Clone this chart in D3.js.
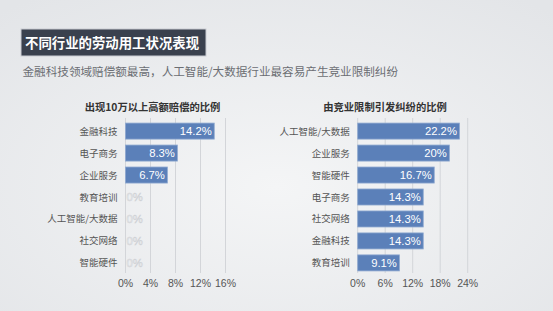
<!DOCTYPE html>
<html>
<head>
<meta charset="utf-8">
<script src="https://cdn.jsdelivr.net/npm/d3@7"></script>
<style>
  body { margin: 0; overflow: hidden; }
  svg { display: block; }
</style>
</head>
<body>
<svg id="chart"></svg>
<script>
// data
const leftCategories = ["金融科技", "电子商务", "企业服务", "教育培训", "人工智能/大数据", "社交网络", "智能硬件"];
const leftValues = [14.2, 8.3, 6.7, 0, 0, 0, 0];
const leftTicks = [0, 4, 8, 12, 16];

const rightCategories = ["人工智能/大数据", "企业服务", "智能硬件", "电子商务", "社交网络", "金融科技", "教育培训"];
const rightValues = [22.2, 20, 16.7, 14.3, 14.3, 14.3, 9.1];
const rightTicks = [0, 6, 12, 18, 24];

const W = 553, H = 311;
const font = "'Noto Sans CJK SC', 'Noto Sans', sans-serif";
const numFont = "'Liberation Sans', Arial, sans-serif";

const svg = d3.select("#chart").attr("width", W).attr("height", H);

// background
const defs = svg.append("defs");
const grad = defs.append("radialGradient").attr("id", "bg")
  .attr("cx", "50%").attr("cy", "60%").attr("r", "75%");
grad.append("stop").attr("offset", "0%").attr("stop-color", "#f4f5f6");
grad.append("stop").attr("offset", "100%").attr("stop-color", "#e3e5e8");
svg.append("rect").attr("width", W).attr("height", H).attr("fill", "url(#bg)");

// header
svg.append("rect")
  .attr("x", 21).attr("y", 29).attr("width", 185).attr("height", 27)
  .attr("fill", "#3a414e").attr("stroke", "#c9ccd2").attr("stroke-width", 1);
svg.append("text")
  .attr("x", 25).attr("y", 47.5)
  .style("font-family", font).style("font-size", "13.4px").style("font-weight", "bold")
  .attr("fill", "#fff")
  .text("不同行业的劳动用工状况表现");
svg.append("text")
  .attr("x", 22.5).attr("y", 75.5)
  .style("font-family", font).style("font-size", "11.6px")
  .attr("fill", "#6b6e73")
  .text("金融科技领域赔偿额最高，人工智能/大数据行业最容易产生竞业限制纠纷");

function drawPanel(cfg) {
  const g = svg.append("g");

  const x = d3.scaleLinear()
    .domain([0, cfg.ticks[cfg.ticks.length - 1]])
    .range([cfg.x0, cfg.x1]);
  const y = d3.scaleBand()
    .domain(cfg.categories)
    .range([120, 274])
    .paddingInner(0.27)
    .paddingOuter(0.14);

  // grid
  g.selectAll(".grid")
    .data(cfg.ticks)
    .join("line")
    .attr("x1", d => x(d)).attr("x2", d => x(d))
    .attr("y1", 118).attr("y2", 273)
    .attr("stroke", "#d3d5d9").attr("stroke-width", 1);

  // axis labels
  g.selectAll(".tick-label")
    .data(cfg.ticks)
    .join("text")
    .attr("x", d => x(d)).attr("y", 287)
    .attr("text-anchor", "middle")
    .style("font-family", numFont).style("font-size", "10.5px")
    .attr("fill", "#555")
    .text(d => d + "%");

  // title
  g.append("text")
    .attr("x", cfg.titleX).attr("y", 110.5)
    .attr("text-anchor", "middle")
    .style("font-family", font).style("font-size", "10.3px").style("font-weight", "bold")
    .attr("fill", "#333")
    .text(cfg.title);

  // category labels
  g.selectAll(".cat")
    .data(cfg.categories)
    .join("text")
    .attr("x", cfg.x0 - 8)
    .attr("y", d => y(d) + y.bandwidth() / 2 + 3.5)
    .attr("text-anchor", "end")
    .style("font-family", font).style("font-size", "9.5px")
    .attr("fill", "#555")
    .text(d => d);

  const rows = cfg.categories.map((c, i) => ({key: c, value: cfg.values[i]}));

  g.selectAll(".bar")
    .data(rows)
    .join("rect")
    .attr("x", x(0))
    .attr("y", d => y(d.key))
    .attr("width", d => x(d.value) - x(0))
    .attr("height", y.bandwidth())
    .attr("fill", "#5b80b9")
    .attr("stroke", d => d.value > 0 ? "#8fa9d0" : "none")
    .attr("stroke-width", 0.8);

  g.selectAll(".val")
    .data(rows)
    .join("text")
    .attr("x", d => d.value > 0 ? x(d.value) - 2.5 : x(0) + 1)
    .attr("y", d => y(d.key) + y.bandwidth() / 2 + 4.2)
    .attr("text-anchor", d => d.value > 0 ? "end" : "start")
    .style("font-family", numFont).style("font-size", "11.3px")
    .attr("fill", "#fff")
    .attr("stroke", d => d.value > 0 ? "none" : "#d0d2d6")
    .attr("stroke-width", 0.6)
    .text(d => d.value + "%");
}

drawPanel({
  categories: leftCategories, values: leftValues, ticks: leftTicks,
  x0: 125.5, x1: 225.5, title: "出现10万以上高额赔偿的比例", titleX: 152.5
});
drawPanel({
  categories: rightCategories, values: rightValues, ticks: rightTicks,
  x0: 357.7, x1: 467.7, title: "由竞业限制引发纠纷的比例", titleX: 385
});
</script>
</body>
</html>
